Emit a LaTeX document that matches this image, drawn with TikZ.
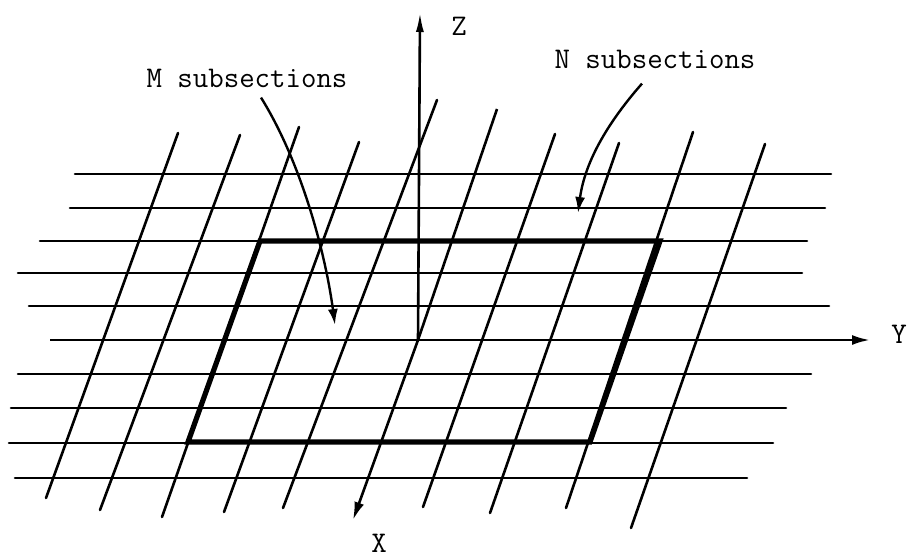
\documentclass[tikz,border=0pt]{standalone}
\usepackage{fontspec}
\usetikzlibrary{arrows.meta}

\tikzset{
	gridline/.style={line width=1.3pt, line cap=round},
	patch/.style={line width=2.6pt},
	axis/.style={line width=1.3pt, -{Latex[length=9pt,width=5pt]}},
	pointer/.style={line width=1.2pt, -{Latex[length=8pt,width=5pt]}},
	lbl/.style={font=\ttfamily\fontsize{15}{18}\selectfont, anchor=base, inner sep=0pt}
}

\begin{document}
\begin{tikzpicture}[x=0.5pt, y=-0.5pt]
		\useasboundingbox (0,0) rectangle (908,557);
		% lines along Y
		\foreach \y/\a/\b in {174/75/831, 208/70/825, 241/40/807, 273/18/802, 306/29/829, 374/18/811, 408/11/786, 443/9/773, 478/15/747}
		{
			\draw[gridline] (\a,\y) -- (\b,\y);
		}
		% lines along X
		\foreach \xa/\ya/\xb/\yb in {178/133/46/498, 240/135/100/510, 299/127/162/517, 359/142/224/512, 437/100/283/508, 555/134/423/507, 619/143/490/513, 693/132/566/508, 765/144/631/528}
		{
			\draw[gridline] (\xa,\ya) -- (\xb,\yb);
		}
		% axes
		\coordinate (o) at (418,340);
		\coordinate (xend) at (353,520);
		\coordinate (yend) at (870,340);
		\coordinate (zend) at (420,12);
		\draw[axis] (50,340) -- (yend);
		\draw[axis] (497,109) -- (o) -- (xend);
		\draw[axis, -{Latex[length=10pt,width=4pt]}] (o) -- (zend);
		\node[lbl] (xlab) at (379,552) {X};
		\node[lbl] (ylab) at (899,343) {Y};
		\node[lbl] (zlab) at (459,35) {Z};
		% the patch
		\draw[patch] (260,241) -- (660,241) -- (590,442) -- (188,442) -- cycle;
		% subsection labels
		\node[lbl] (mlab) at (247,87) {M subsections};
		\node[lbl] (nlab) at (655,68) {N subsections};
		\coordinate (mtip) at (335,325);
		\coordinate (ntip) at (578,213);
		\draw[pointer] ([xshift=7pt,yshift=-5pt]mlab.south) .. controls (300,160) and (325,250) .. (mtip);
		\draw[pointer] ([xshift=-6.5pt,yshift=-7.5pt]nlab.south) .. controls (610,120) and (585,160) .. (ntip);
	\end{tikzpicture}
\end{document}
